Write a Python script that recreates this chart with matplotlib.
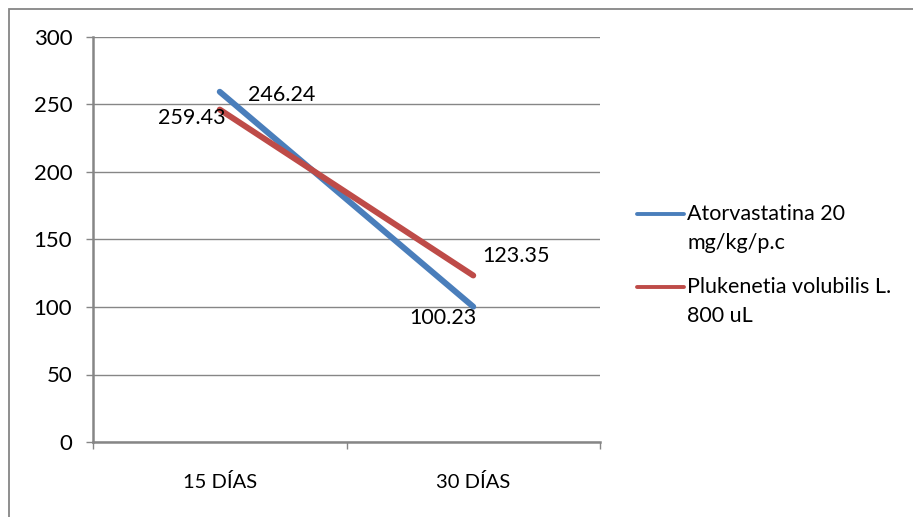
import matplotlib
matplotlib.use("Agg")
import matplotlib.pyplot as plt
from matplotlib.lines import Line2D
from matplotlib.patches import Rectangle

categories = ["15 DÍAS", "30 DÍAS"]
atorvastatina = [259.43, 100.23]
plukenetia = [246.24, 123.35]
series_names = ["Atorvastatina 20\nmg/kg/p.c", "Plukenetia volubilis L.\n800 uL"]
yticks = [0, 50, 100, 150, 200, 250, 300]

BLUE = "#4A7EBB"
RED = "#BE4B48"
GREY = "#868686"
plt.rcParams["font.family"] = ["Lato", "DejaVu Sans"]

W, H = 913, 517
fig = plt.figure(figsize=(W / 100, H / 100), dpi=100)
fig.patch.set_facecolor("white")

# chart frame (top and left edges visible)
fig.add_artist(Rectangle((9 / W, -0.1), 1.2, 1 - 9 / H + 0.1, transform=fig.transFigure,
                         fill=False, edgecolor=GREY, lw=1.3))

ax = fig.add_axes([93 / W, 1 - 442 / H, (600 - 93) / W, (442 - 37) / H])
xs = [0.5, 1.5]
ax.plot(xs, atorvastatina, color=BLUE, lw=4.3, solid_capstyle="round", zorder=3)
ax.plot(xs, plukenetia, color=RED, lw=4.3, solid_capstyle="round", zorder=3)

ax.set_xlim(0, 2)
ax.set_ylim(0, 300)
ax.set_yticks(yticks)
ax.set_yticklabels([str(v) for v in yticks], fontsize=16)
ax.set_xticks([0, 1, 2])
ax.set_xticklabels([])
ax.set_xticks(xs, minor=True)
ax.set_xticklabels(categories, minor=True, fontsize=14.5)
ax.tick_params(axis="x", which="minor", length=0, pad=22)
ax.tick_params(axis="x", which="major", length=5, color=GREY, width=1)
ax.tick_params(axis="y", length=5, color=GREY, width=1, pad=10)
ax.grid(axis="y", color=GREY, lw=1)
ax.set_axisbelow(True)
for side in ["top", "right"]:
    ax.spines[side].set_visible(False)
for side in ["left", "bottom"]:
    ax.spines[side].set_color(GREY)
    ax.spines[side].set_linewidth(1.8)

# value labels
label_offsets_blue = [(-28, -26), (-30, -11)]
label_offsets_red = [(62, 15), (43, 19)]
for x, v, off in zip(xs, atorvastatina, label_offsets_blue):
    ax.annotate(f"{v:.2f}", (x, v), xytext=off, textcoords="offset pixels",
                ha="center", va="center", fontsize=15.5)
for x, v, off in zip(xs, plukenetia, label_offsets_red):
    ax.annotate(f"{v:.2f}", (x, v), xytext=off, textcoords="offset pixels",
                ha="center", va="center", fontsize=15.5)

# legend
for (y_line, name, col) in [(214, series_names[0], BLUE), (287, series_names[1], RED)]:
    fig.add_artist(Line2D([637 / W, 684 / W], [1 - y_line / H] * 2, transform=fig.transFigure,
                          color=col, lw=2.8, solid_capstyle="round"))
    first, second = name.split("\n")
    fig.text(687 / W, 1 - y_line / H, first, ha="left", va="center", fontsize=15.5)
    fig.text(687 / W, 1 - (y_line + 29) / H, second, ha="left", va="center", fontsize=15.5)

fig.savefig("out.png", dpi=100)
